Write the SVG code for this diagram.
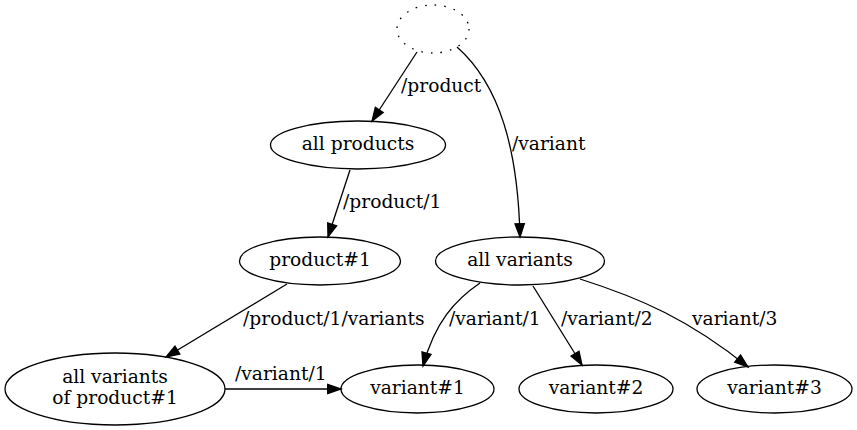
<svg xmlns="http://www.w3.org/2000/svg" width="857" height="430" viewBox="0 0 857 430">
<style>
  .n ellipse { fill: none; stroke: #000; stroke-width: 1.3; }
  text { font-family: "DejaVu Serif", "Liberation Serif", serif; font-size: 18.67px; fill: #000; }
  .n text { text-anchor: middle; }
  .e path { fill: none; stroke: #000; stroke-width: 1.3; marker-end: url(#ah); }
</style>
<defs>
  <marker id="ah" markerUnits="userSpaceOnUse" markerWidth="15" markerHeight="11" refX="13.3" refY="4.7" orient="auto" overflow="visible">
    <path d="M0,0 L13.3,4.7 L0,9.4 z" fill="#000" stroke="#000" stroke-width="1.3"/>
  </marker>
</defs>
<rect width="857" height="430" fill="#fff"/>
<g id="edges" class="e">
  <path d="M417,52 L372,121"/>
  <text x="401" y="92">/product</text>
  <path d="M457,47 C500,85 518,150 520,237"/>
  <text x="512" y="150">/variant</text>
  <path d="M350,170 L328,237"/>
  <text x="343" y="208">/product/1</text>
  <path d="M287,284 L166,357"/>
  <text x="243" y="325">/product/1/variants</text>
  <path d="M225,389 L341,389"/>
  <text x="235" y="380">/variant/1</text>
  <path d="M480,283 C455,300 435,322 423,366"/>
  <text x="449" y="325">/variant/1</text>
  <path d="M533,286 L582,365"/>
  <text x="561" y="325">/variant/2</text>
  <path d="M580,279 C640,298 690,320 748,367"/>
  <text x="692" y="325">variant/3</text>
</g>
<g id="root" class="n"><ellipse cx="433" cy="29" rx="36" ry="24" stroke-width="1.6" stroke-dasharray="1.6,8"/></g>
<g id="all_products" class="n"><ellipse cx="358" cy="145" rx="87.5" ry="24"/><text x="358" y="150">all products</text></g>
<g id="product1" class="n"><ellipse cx="320" cy="261" rx="80.5" ry="24"/><text x="320" y="266">product#1</text></g>
<g id="all_variants" class="n"><ellipse cx="520" cy="261" rx="84.5" ry="24"/><text x="520" y="266">all variants</text></g>
<g id="all_variants_of_product1" class="n"><ellipse cx="115" cy="389" rx="110" ry="36"/><text x="115" y="383">all variants</text><text x="115" y="404">of product#1</text></g>
<g id="variant1" class="n"><ellipse cx="417.5" cy="389" rx="76.5" ry="24"/><text x="417.5" y="394">variant#1</text></g>
<g id="variant2" class="n"><ellipse cx="596" cy="389" rx="77" ry="24"/><text x="596" y="394">variant#2</text></g>
<g id="variant3" class="n"><ellipse cx="774.5" cy="389" rx="77.5" ry="24"/><text x="774.5" y="394">variant#3</text></g>
</svg>
